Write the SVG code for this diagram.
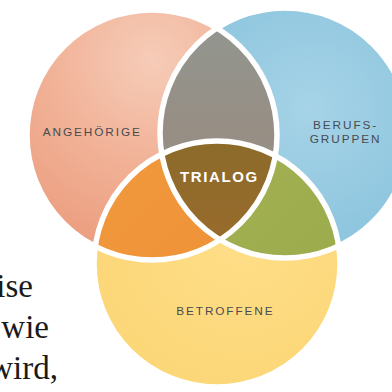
<svg xmlns="http://www.w3.org/2000/svg" width="392" height="392" viewBox="0 0 392 392">
<style>
.lbl{font-family:"Liberation Sans",Arial,sans-serif;font-size:11.8px;letter-spacing:1.9px;fill:#484b51;text-anchor:middle}
.ttl{font-family:"Liberation Sans",Arial,sans-serif;font-size:15px;font-weight:bold;letter-spacing:1.6px;fill:#ffffff;text-anchor:middle}
.body{font-family:"Liberation Serif","Times New Roman",serif;font-size:33px;fill:#1a1a1a;text-anchor:end}
.sep{fill:none;stroke:#ffffff;stroke-width:5.5}
</style>
<defs>
<clipPath id="cS"><circle cx="152" cy="135" r="125"/></clipPath>
<clipPath id="cB"><circle cx="285" cy="133" r="125"/></clipPath>
<clipPath id="cY"><circle cx="217" cy="264" r="123"/></clipPath>
<radialGradient id="gS" cx="0.5" cy="0.2" r="0.85">
<stop offset="0" stop-color="#F6CCB8"/><stop offset="0.5" stop-color="#F1B196"/><stop offset="1" stop-color="#EB9A7B"/>
</radialGradient>
<radialGradient id="gB" cx="0.6" cy="0.4" r="0.7">
<stop offset="0" stop-color="#A6D3E7"/><stop offset="1" stop-color="#86C2DC"/>
</radialGradient>
<radialGradient id="gY" cx="0.6" cy="0.4" r="0.7">
<stop offset="0" stop-color="#FEDE88"/><stop offset="1" stop-color="#FCD676"/>
</radialGradient>
<linearGradient id="gG" x1="0" y1="0" x2="0" y2="1">
<stop offset="0" stop-color="#919791"/><stop offset="0.5" stop-color="#978E84"/><stop offset="1" stop-color="#8D989A"/>
</linearGradient>
<linearGradient id="gO" x1="0" y1="0" x2="1" y2="1">
<stop offset="0" stop-color="#F29A3C"/><stop offset="1" stop-color="#EC8A36"/>
</linearGradient>
<linearGradient id="gV" x1="0" y1="0" x2="1" y2="1">
<stop offset="0" stop-color="#A7B45A"/><stop offset="1" stop-color="#98A845"/>
</linearGradient>
<linearGradient id="gC" x1="0" y1="0" x2="0" y2="1">
<stop offset="0" stop-color="#8C6B2A"/><stop offset="1" stop-color="#A96A2F"/>
</linearGradient>
</defs>

<g id="text-left">
<text class="body" x="33" y="297">ise</text>
<text class="body" x="49" y="338">wie</text>
<text class="body" x="58" y="379">wird,</text>
</g>

<g id="angehoerige">
<circle cx="152" cy="135" r="125" fill="url(#gS)"/>
</g>
<g id="berufsgruppen">
<circle cx="285" cy="133" r="125" fill="url(#gB)"/>
</g>
<g id="betroffene">
<circle cx="217" cy="264" r="123" fill="url(#gY)"/>
</g>

<g id="overlaps">
<g clip-path="url(#cS)"><circle cx="285" cy="133" r="125" fill="url(#gG)"/></g>
<g clip-path="url(#cS)"><circle cx="217" cy="264" r="123" fill="url(#gO)"/></g>
<g clip-path="url(#cB)"><circle cx="217" cy="264" r="123" fill="url(#gV)"/></g>
</g>

<g id="trialog">
<g clip-path="url(#cS)"><g clip-path="url(#cB)"><circle cx="217" cy="264" r="123" fill="url(#gC)"/></g></g>
</g>

<g id="connectors">
<circle class="sep" cx="152" cy="135" r="125"/>
<circle class="sep" cx="285" cy="133" r="125"/>
<circle class="sep" cx="217" cy="264" r="123"/>
</g>

<g id="labels">
<text class="lbl" x="92.3" y="135.7">ANGEHÖRIGE</text>
<text class="lbl" x="345.6" y="129.3">BERUFS-</text>
<text class="lbl" x="345.6" y="142.7">GRUPPEN</text>
<text class="lbl" x="225.4" y="315">BETROFFENE</text>
<text class="ttl" x="219.4" y="181.7">TRIALOG</text>
</g>
</svg>
